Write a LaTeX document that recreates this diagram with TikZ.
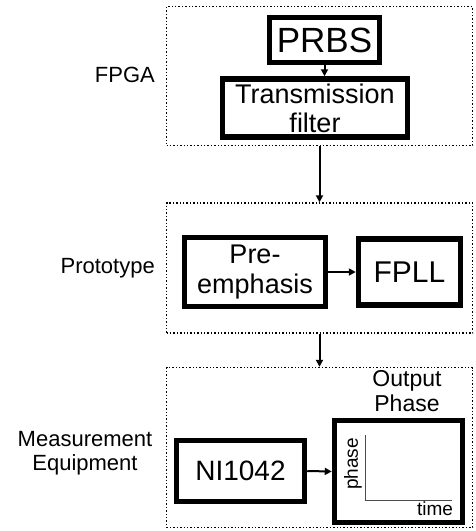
\documentclass[tikz,border=0pt]{standalone}
\usepackage{fontspec}
\setmainfont{Liberation Sans}
\usetikzlibrary{arrows.meta}
\newcommand{\fsz}[1]{\fontsize{#1}{1.08\dimexpr #1pt\relax}\selectfont}
\tikzset{
  dotbox/.style={draw, line width=1.4pt, dash pattern=on 1.4pt off 2pt, minimum width=306pt},
  thickbox/.style={draw, line width=5.5pt, inner sep=0pt, align=center},
  arr/.style={line width=2pt, -{Triangle[length=7pt,width=7pt]}},
  lbl/.style={inner sep=0pt, align=center, font=\fsz{22}},
}
\begin{document}
\begin{tikzpicture}[x=1pt,y=-1pt]
\useasboundingbox (0,0) rectangle (476,531);
% section boxes
\node[dotbox, minimum height=139pt] (fpgabox) at (319.5,76) {};
\node[dotbox, minimum height=130pt] (protobox) at (319.5,268) {};
\node[dotbox, minimum height=160pt] (measbox) at (319.5,447.5) {};
% section labels
\node[lbl, anchor=east] (fpgalbl) at (155,75) {FPGA};
\node[lbl, anchor=east] (protolbl) at (155,268) {Prototype};
\node[lbl] (measlbl) at (85,453) {Measurement\\Equipment};
% FPGA
\node[thickbox, minimum width=110pt, minimum height=45pt, font=\fsz{35}] (prbs) at (324.5,40) {PRBS};
\node[thickbox, minimum width=185pt, minimum height=58pt, font=\fsz{27}] (tf) at (315,108) {Transmission\\filter};
% Prototype
\node[thickbox, minimum width=141pt, minimum height=69pt, font=\fsz{27}] (pre) at (255,272) {Pre-\\emphasis};
\node[thickbox, minimum width=102pt, minimum height=66pt, font=\fsz{30}] (fpll) at (409.5,272) {FPLL};
% Measurement
\node[thickbox, minimum width=128pt, minimum height=61pt, font=\fsz{28}] (ni) at (240.5,471) {NI1042};
\node[thickbox, minimum width=128pt, minimum height=102pt] (out) at (398.5,471.5) {};
\node[lbl, font=\fsz{23}] (outlbl) at (407,391) {Output\\Phase};
\coordinate (ax0) at (365,500);
\coordinate (axy) at (365,435);
\coordinate (axx) at (452,500);
\draw[line width=1pt, black!70] (axy) -- (ax0) -- (axx);
\node[inner sep=0pt, rotate=90, font=\fsz{19}] (phaselbl) at (353,464) {phase};
\node[inner sep=0pt, font=\fsz{19}] (timelbl) at (435,509) {time};
% connectors
\draw[arr] (prbs.south) -- (prbs.south |- tf.north);
\draw[arr] (fpgabox.south) -- (protobox.north);
\draw[arr] (protobox.south) -- (measbox.north);
\draw[arr] (pre.east) -- (fpll.west);
\draw[arr] (ni.east) -- (out.west);
\end{tikzpicture}
\end{document}
